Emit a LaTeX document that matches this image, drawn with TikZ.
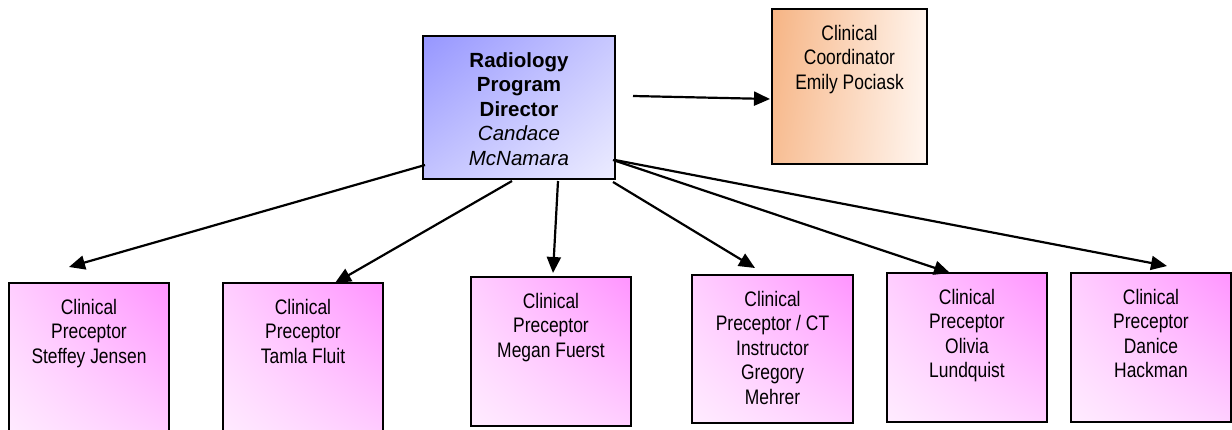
\documentclass[tikz,border=0pt]{standalone}
\usepackage{fontspec}
\setmainfont{Liberation Sans}[FakeStretch=0.83]
\newfontfamily\dirfont{Liberation Sans}
\usetikzlibrary{arrows.meta,shadings}
\definecolor{dirUL}{RGB}{150,150,255}
\definecolor{dirUR}{RGB}{200,200,255}
\definecolor{dirLL}{RGB}{196,196,255}
\definecolor{dirLR}{RGB}{236,236,255}
\definecolor{coUL}{RGB}{246,180,132}
\definecolor{coLL}{RGB}{248,190,148}
\definecolor{coUR}{RGB}{255,244,236}
\definecolor{coLR}{RGB}{255,246,240}
\definecolor{pkUR}{RGB}{255,148,255}
\definecolor{pkUL}{RGB}{255,206,255}
\definecolor{pkLR}{RGB}{255,206,255}
\definecolor{pkLL}{RGB}{255,236,255}
\tikzset{
  box/.style={draw=black, line width=2pt, inner sep=0pt},
  dirbox/.style={box, upper left=dirUL, upper right=dirUR, lower left=dirLL, lower right=dirLR},
  coordbox/.style={box, upper left=coUL, lower left=coLL, upper right=coUR, lower right=coLR},
  pinkbox/.style={box, upper right=pkUR, upper left=pkUL, lower right=pkLR, lower left=pkLL},
  txt/.style={anchor=north, inner sep=0pt, align=center, font=\fontsize{21}{24.5}\selectfont, yshift=-17pt},
  dirtxt/.style={txt, font=\dirfont\fontsize{20.5}{24.5}\selectfont},
  conn/.style={line width=2.2pt, -{Triangle[length=16pt,width=14pt]}},
}
\begin{document}
\begin{tikzpicture}[x=1pt,y=-1pt]
\path[use as bounding box] (0,0) rectangle (1232,429);
\clip (0,0) rectangle (1232,429);
% boxes
\node[dirbox, minimum width=192pt, minimum height=143pt] (dir) at (519,107.5) {};
\node[coordbox, minimum width=155pt, minimum height=155pt] (coord) at (849.5,86.5) {};
\node[pinkbox, minimum width=160pt, minimum height=157pt] (b1) at (89,361.5) {};
\node[pinkbox, minimum width=160pt, minimum height=157pt] (b2) at (303,361.5) {};
\node[pinkbox, minimum width=160pt, minimum height=149pt] (b3) at (551,351.5) {};
\node[pinkbox, minimum width=161pt, minimum height=148pt] (b4) at (772.5,349) {};
\node[pinkbox, minimum width=160pt, minimum height=149pt] (b5) at (967,347.5) {};
\node[pinkbox, minimum width=160pt, minimum height=149pt] (b6) at (1151,347.5) {};
% texts
\node[dirtxt] (tdir) at (dir.north) {\textbf{Radiology}\\\textbf{Program}\\\textbf{Director}\\\textit{Candace}\\\textit{McNamara}};
\node[txt] (tcoord) at (coord.north) {Clinical\\Coordinator\\Emily Pociask};
\node[txt] (t1) at (b1.north) {Clinical\\Preceptor\\Steffey Jensen};
\node[txt] (t2) at (b2.north) {Clinical\\Preceptor\\Tamla Fluit};
\node[txt] (t3) at (b3.north) {Clinical\\Preceptor\\Megan Fuerst};
\node[txt] (t4) at (b4.north) {Clinical\\Preceptor / CT\\Instructor\\Gregory\\Mehrer};
\node[txt] (t5) at (b5.north) {Clinical\\Preceptor\\Olivia\\Lundquist};
\node[txt] (t6) at (b6.north) {Clinical\\Preceptor\\Danice\\Hackman};
% connector end points
\coordinate (s0) at (633,96);  \coordinate (e0) at (770,99);
\coordinate (s1) at (425,165); \coordinate (e1) at (69,267);
\coordinate (s2) at (512,181); \coordinate (e2) at (335,283);
\coordinate (s3) at (558,181); \coordinate (e3) at (553,273);
\coordinate (s4) at (613,182); \coordinate (e4) at (755,268);
\coordinate (s5) at (613,160); \coordinate (e5) at (950,273);
\coordinate (s6) at (615,160); \coordinate (e6) at (1167,266);
\draw[conn] (s0) -- (e0);
\draw[conn] (s1) -- (e1);
\draw[conn] (s2) -- (e2);
\draw[conn] (s3) -- (e3);
\draw[conn] (s4) -- (e4);
\draw[conn] (s5) -- (e5);
\draw[conn] (s6) -- (e6);
\end{tikzpicture}
\end{document}
